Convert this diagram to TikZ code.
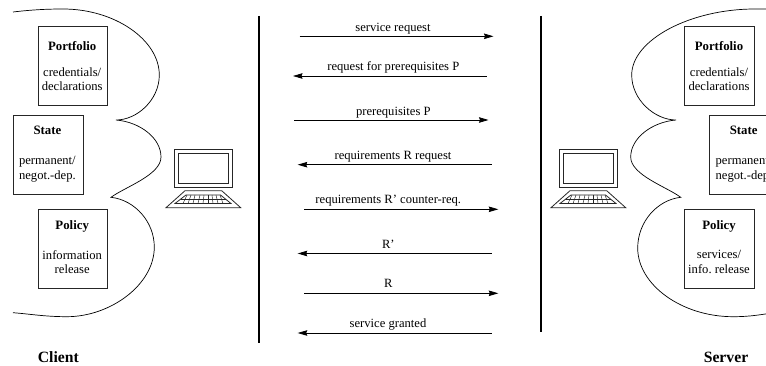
\documentclass[tikz,border=0pt]{standalone}
\usepackage{fontspec}
\setmainfont{Liberation Serif}
\usetikzlibrary{arrows.meta}
\tikzset{
  box/.style={draw=black!85,line width=0.8pt,minimum width=69.5pt,minimum height=79pt,inner sep=0pt,align=center,anchor=north west},
  title/.style={font=\fontsize{12.8}{15}\selectfont\bfseries,inner sep=0pt,anchor=base},
  party/.style={font=\fontsize{15.7}{18}\selectfont\bfseries,inner sep=0pt,anchor=base},
  body/.style={font=\fontsize{12.6}{14.6}\selectfont,align=center,inner sep=0pt},
  msg/.style={font=\fontsize{12.6}{15}\selectfont,inner sep=0pt,anchor=base},
  flow/.style={line width=0.8pt,-{Stealth[length=9.5pt,width=5.5pt,inset=1pt]}},
  wall/.style={line width=1.5pt},
  cloud/.style={line width=0.7pt},
  pc/.style={line width=0.8pt,black!85}
}
\newcommand{\laptop}[1]{%
\begin{scope}[xshift=#1pt]
\draw[pc] (174.3,-149.7) rectangle (232.3,-187.3);
\draw[pc] (178.3,-153.7) rectangle (228.3,-183);
\draw[pc] (185,-190.7) -- (221.7,-190.7) -- (240.7,-207.7) -- (166,-207.7) -- cycle;
\draw[pc] (186,-195) -- (220.5,-195) -- (231,-203.5) -- (175,-203.5) -- cycle;
\draw[pc,line width=0.5pt] (181,-199.2) -- (226,-199.2);
\foreach \a/\b in {187/183,191/188,195/193,200/198,204/203,208/208,212/213,216/218,220/223}{\draw[pc,line width=0.5pt] (\a,-195) -- (\b,-203.5);}
\end{scope}}
\begin{document}
\frenchspacing
\begin{tikzpicture}[x=1pt,y=1pt]
\useasboundingbox (0,0) rectangle (766,-366);
\clip (0,0) rectangle (766,-366);
% clouds
\draw[cloud] (13,-12) .. controls (30,-10) and (45,-9) .. (63,-9)
  .. controls (115,-9) and (159.3,-40) .. (159.3,-75)
  .. controls (159.3,-100) and (137,-120) .. (116,-120)
  .. controls (140,-122) and (161,-138) .. (161,-157)
  .. controls (161,-175) and (125,-187) .. (111,-197.3)
  .. controls (135,-200) and (154.3,-222) .. (154.3,-247)
  .. controls (154.3,-285) and (110,-316.7) .. (67,-316.7)
  .. controls (45,-316.7) and (30,-314) .. (13,-312.7);
\draw[cloud] (790,-9) .. controls (775,-9) and (770,-9) .. (755,-9)
  .. controls (690,-9) and (631.7,-40) .. (631.7,-75)
  .. controls (631.7,-100) and (655,-120) .. (676,-120)
  .. controls (652,-122) and (630.7,-138) .. (630.7,-157)
  .. controls (630.7,-175) and (667,-187) .. (680.7,-197.3)
  .. controls (657,-200) and (637.7,-222) .. (637.7,-248)
  .. controls (637.7,-285) and (682,-316.7) .. (733,-316.7)
  .. controls (750,-316.7) and (760,-315) .. (790,-310);
% boxes
\node[box] (cport) at (37.7,-26.3) {};
\node[box] (cstate) at (13,-115.3) {};
\node[box] (cpol) at (37.7,-209) {};
\node[box] (sport) at (684.3,-26.3) {};
\node[box] (sstate) at (709,-115.3) {};
\node[box] (spol) at (684.3,-209) {};
\node[title] (t1) at (72.2,-50.7) {Portfolio};
\node[body] (b1) at (72.2,-79) {credentials/\\declarations};
\node[title] (t2) at (47.4,-135) {State};
\node[body] (b2) at (47.4,-169.5) {permanent/\\negot.-dep.};
\node[title] (t3) at (72.2,-229.3) {Policy};
\node[body] (b3) at (72.2,-262) {information\\release};
\node[title] (t4) at (719,-50.7) {Portfolio};
\node[body] (b4) at (719,-79) {credentials/\\declarations};
\node[title] (t5) at (743.7,-135) {State};
\node[body] (b5) at (744,-169.5) {permanent/\\negot.-dep.};
\node[title] (t6) at (719,-229.3) {Policy};
\node[body] (b6) at (719,-262) {services/\\info. release};
\node[party] (client) at (58.3,-362) {Client};
\node[party] (server) at (726,-362) {Server};
% walls
\coordinate (w1a) at (259,-16); \coordinate (w1b) at (259,-342.7);
\coordinate (w2a) at (541,-16); \coordinate (w2b) at (541,-332);
\draw[wall] (w1a) -- (w1b);
\draw[wall] (w2a) -- (w2b);
% laptops
\laptop{0}
\laptop{385}
% messages
\coordinate (a1) at (299.7,-36.3); \coordinate (a2) at (493.5,-36.3);
\coordinate (b1a) at (486.7,-76); \coordinate (b2a) at (293,-76);
\coordinate (c1) at (294.3,-120); \coordinate (c2) at (488.5,-120);
\coordinate (d1) at (491.7,-164.7); \coordinate (d2) at (297.7,-164.7);
\coordinate (e1) at (304.3,-209.3); \coordinate (e2) at (498.3,-209.3);
\coordinate (f1) at (491.7,-253.5); \coordinate (f2) at (297.7,-253.5);
\coordinate (g1) at (304.3,-293.3); \coordinate (g2) at (498.3,-293.3);
\coordinate (h1) at (491.7,-333); \coordinate (h2) at (297.7,-333);
\draw[flow] (a1) -- (a2);
\draw[flow] (b1a) -- (b2a);
\draw[flow] (c1) -- (c2);
\draw[flow] (d1) -- (d2);
\draw[flow] (e1) -- (e2);
\draw[flow] (f1) -- (f2);
\draw[flow] (g1) -- (g2);
\draw[flow] (h1) -- (h2);
\node[msg] (m1) at (393,-32) {service request};
\node[msg] (m2) at (393.3,-71) {request for prerequisites P};
\node[msg] (m3) at (393.3,-116) {prerequisites P};
\node[msg] (m4) at (393,-160) {requirements R request};
\node[msg] (m5) at (388.3,-204) {requirements R’ counter-req.};
\node[msg] (m6) at (388.3,-249) {R’};
\node[msg] (m7) at (388.3,-287.3) {R};
\node[msg] (m8) at (388,-327.7) {service granted};
\end{tikzpicture}
\end{document}
